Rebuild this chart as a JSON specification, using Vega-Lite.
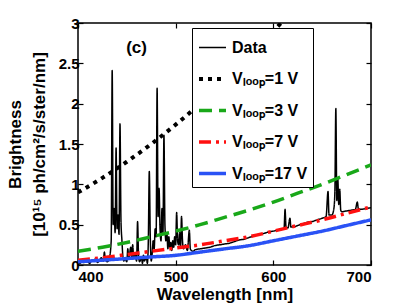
{
  "$schema": "https://vega.github.io/schema/vega-lite/v6.json",
  "width": 293,
  "height": 242,
  "autosize": {"type": "none"},
  "padding": {"left": 78, "top": 23, "right": 39, "bottom": 43},
  "config": {
    "font": "Liberation Sans",
    "background": "white",
    "view": {"stroke": "black", "strokeWidth": 1.5},
    "axis": {
      "grid": false,
      "domain": false,
      "tickColor": "black",
      "tickSize": -5,
      "tickWidth": 1.2,
      "labelFont": "Liberation Sans",
      "labelFontWeight": "bold",
      "labelFontSize": 15,
      "labelColor": "black",
      "titleFont": "Liberation Sans",
      "titleFontWeight": "bold",
      "titleFontSize": 17,
      "titleColor": "black"
    },
    "legend": {
      "orient": "none",
      "legendX": 114,
      "legendY": 5,
      "padding": 5,
      "strokeColor": "black",
      "fillColor": "white",
      "rowPadding": 7.5,
      "symbolType": "stroke",
      "symbolSize": 729,
      "labelFont": "Liberation Sans",
      "labelFontWeight": "bold",
      "labelFontSize": 16,
      "labelColor": "black",
      "labelOffset": 4,
      "title": null
    }
  },
  "data": {
    "values": [
      {"series": "Data", "wl": 400, "b": 0.04},
      {"series": "Data", "wl": 402, "b": 0.02},
      {"series": "Data", "wl": 404, "b": 0.05},
      {"series": "Data", "wl": 406, "b": 0.03},
      {"series": "Data", "wl": 408, "b": 0.06},
      {"series": "Data", "wl": 410, "b": 0.04},
      {"series": "Data", "wl": 412, "b": 0.02},
      {"series": "Data", "wl": 414, "b": 0.06},
      {"series": "Data", "wl": 416, "b": 0.05},
      {"series": "Data", "wl": 418, "b": 0.08},
      {"series": "Data", "wl": 420, "b": 0.03},
      {"series": "Data", "wl": 422, "b": 0.06},
      {"series": "Data", "wl": 424, "b": 0.09},
      {"series": "Data", "wl": 426, "b": 0.05},
      {"series": "Data", "wl": 427, "b": 0.16},
      {"series": "Data", "wl": 428, "b": 0.07},
      {"series": "Data", "wl": 430, "b": 0.04},
      {"series": "Data", "wl": 432, "b": 0.08},
      {"series": "Data", "wl": 434, "b": 0.3},
      {"series": "Data", "wl": 435, "b": 2.41},
      {"series": "Data", "wl": 436, "b": 0.5},
      {"series": "Data", "wl": 437, "b": 0.7},
      {"series": "Data", "wl": 438, "b": 0.4},
      {"series": "Data", "wl": 439, "b": 1.45},
      {"series": "Data", "wl": 440, "b": 0.45},
      {"series": "Data", "wl": 441, "b": 0.62},
      {"series": "Data", "wl": 442, "b": 0.38},
      {"series": "Data", "wl": 443, "b": 1.75},
      {"series": "Data", "wl": 444, "b": 0.55},
      {"series": "Data", "wl": 445, "b": 0.3},
      {"series": "Data", "wl": 446, "b": 0.1},
      {"series": "Data", "wl": 447, "b": 0.05},
      {"series": "Data", "wl": 448, "b": 0.08},
      {"series": "Data", "wl": 450, "b": 0.04},
      {"series": "Data", "wl": 451, "b": 0.2},
      {"series": "Data", "wl": 452, "b": 0.07},
      {"series": "Data", "wl": 454, "b": 0.22},
      {"series": "Data", "wl": 455, "b": 0.1},
      {"series": "Data", "wl": 456, "b": 0.25},
      {"series": "Data", "wl": 457, "b": 0.08},
      {"series": "Data", "wl": 458, "b": 0.15},
      {"series": "Data", "wl": 460, "b": 0.05},
      {"series": "Data", "wl": 461, "b": 0.54},
      {"series": "Data", "wl": 462, "b": 0.12},
      {"series": "Data", "wl": 463, "b": 0.04},
      {"series": "Data", "wl": 465, "b": 0.09},
      {"series": "Data", "wl": 466, "b": 0.02},
      {"series": "Data", "wl": 467, "b": 0.12},
      {"series": "Data", "wl": 468, "b": 0.05},
      {"series": "Data", "wl": 470, "b": 0.1},
      {"series": "Data", "wl": 471, "b": 0.02},
      {"series": "Data", "wl": 472, "b": 0.3},
      {"series": "Data", "wl": 473, "b": 1.16},
      {"series": "Data", "wl": 474, "b": 0.35},
      {"series": "Data", "wl": 475, "b": 0.05},
      {"series": "Data", "wl": 476, "b": 0.15},
      {"series": "Data", "wl": 477, "b": 0.3},
      {"series": "Data", "wl": 478, "b": 0.2},
      {"series": "Data", "wl": 479, "b": 0.45},
      {"series": "Data", "wl": 480, "b": 0.35},
      {"series": "Data", "wl": 481, "b": 2.19},
      {"series": "Data", "wl": 482, "b": 0.6},
      {"series": "Data", "wl": 483, "b": 0.95},
      {"series": "Data", "wl": 484, "b": 0.45},
      {"series": "Data", "wl": 485, "b": 0.3},
      {"series": "Data", "wl": 486, "b": 0.7},
      {"series": "Data", "wl": 487, "b": 0.4},
      {"series": "Data", "wl": 488, "b": 1.61},
      {"series": "Data", "wl": 489, "b": 0.5},
      {"series": "Data", "wl": 490, "b": 0.3},
      {"series": "Data", "wl": 491, "b": 0.4},
      {"series": "Data", "wl": 492, "b": 0.2},
      {"series": "Data", "wl": 493, "b": 0.35},
      {"series": "Data", "wl": 494, "b": 0.22},
      {"series": "Data", "wl": 495, "b": 0.28},
      {"series": "Data", "wl": 496, "b": 0.18},
      {"series": "Data", "wl": 497, "b": 0.3},
      {"series": "Data", "wl": 498, "b": 0.22},
      {"series": "Data", "wl": 499, "b": 0.35},
      {"series": "Data", "wl": 500, "b": 0.25},
      {"series": "Data", "wl": 501, "b": 0.65},
      {"series": "Data", "wl": 502, "b": 0.3},
      {"series": "Data", "wl": 503, "b": 0.25},
      {"series": "Data", "wl": 504, "b": 0.4},
      {"series": "Data", "wl": 505, "b": 0.22},
      {"series": "Data", "wl": 506, "b": 0.6},
      {"series": "Data", "wl": 507, "b": 0.3},
      {"series": "Data", "wl": 508, "b": 0.2},
      {"series": "Data", "wl": 510, "b": 0.25},
      {"series": "Data", "wl": 512, "b": 0.18},
      {"series": "Data", "wl": 514, "b": 0.43},
      {"series": "Data", "wl": 515, "b": 0.2},
      {"series": "Data", "wl": 516, "b": 0.18},
      {"series": "Data", "wl": 518, "b": 0.17},
      {"series": "Data", "wl": 520, "b": 0.19},
      {"series": "Data", "wl": 525, "b": 0.2},
      {"series": "Data", "wl": 530, "b": 0.21},
      {"series": "Data", "wl": 535, "b": 0.22},
      {"series": "Data", "wl": 540, "b": 0.24},
      {"series": "Data", "wl": 545, "b": 0.25},
      {"series": "Data", "wl": 550, "b": 0.26},
      {"series": "Data", "wl": 555, "b": 0.27},
      {"series": "Data", "wl": 560, "b": 0.29},
      {"series": "Data", "wl": 565, "b": 0.31},
      {"series": "Data", "wl": 570, "b": 0.32},
      {"series": "Data", "wl": 575, "b": 0.34},
      {"series": "Data", "wl": 580, "b": 0.36},
      {"series": "Data", "wl": 585, "b": 0.38},
      {"series": "Data", "wl": 590, "b": 0.39},
      {"series": "Data", "wl": 595, "b": 0.41},
      {"series": "Data", "wl": 600, "b": 0.42},
      {"series": "Data", "wl": 604, "b": 0.43},
      {"series": "Data", "wl": 608, "b": 0.44},
      {"series": "Data", "wl": 611, "b": 0.45},
      {"series": "Data", "wl": 612, "b": 0.69},
      {"series": "Data", "wl": 613, "b": 0.47},
      {"series": "Data", "wl": 615, "b": 0.46},
      {"series": "Data", "wl": 617, "b": 0.58},
      {"series": "Data", "wl": 618, "b": 0.47},
      {"series": "Data", "wl": 620, "b": 0.47},
      {"series": "Data", "wl": 625, "b": 0.49},
      {"series": "Data", "wl": 630, "b": 0.51},
      {"series": "Data", "wl": 635, "b": 0.53},
      {"series": "Data", "wl": 640, "b": 0.54},
      {"series": "Data", "wl": 645, "b": 0.56},
      {"series": "Data", "wl": 650, "b": 0.58},
      {"series": "Data", "wl": 654, "b": 0.6},
      {"series": "Data", "wl": 656, "b": 0.91},
      {"series": "Data", "wl": 657, "b": 0.62},
      {"series": "Data", "wl": 660, "b": 0.62},
      {"series": "Data", "wl": 662, "b": 0.7},
      {"series": "Data", "wl": 663, "b": 0.9},
      {"series": "Data", "wl": 664, "b": 1.94},
      {"series": "Data", "wl": 665, "b": 0.8},
      {"series": "Data", "wl": 666, "b": 1.07},
      {"series": "Data", "wl": 667, "b": 0.75},
      {"series": "Data", "wl": 668, "b": 0.94},
      {"series": "Data", "wl": 669, "b": 0.68},
      {"series": "Data", "wl": 670, "b": 0.66},
      {"series": "Data", "wl": 675, "b": 0.67},
      {"series": "Data", "wl": 680, "b": 0.68},
      {"series": "Data", "wl": 684, "b": 0.69},
      {"series": "Data", "wl": 686, "b": 0.78},
      {"series": "Data", "wl": 687, "b": 0.7},
      {"series": "Data", "wl": 690, "b": 0.69},
      {"series": "Data", "wl": 695, "b": 0.7},
      {"series": "Data", "wl": 700, "b": 0.71},
      {"series": "Vₗₒₒₚ=1 V", "wl": 400, "b": 0.9},
      {"series": "Vₗₒₒₚ=1 V", "wl": 425, "b": 1.08},
      {"series": "Vₗₒₒₚ=1 V", "wl": 450, "b": 1.28},
      {"series": "Vₗₒₒₚ=1 V", "wl": 475, "b": 1.5},
      {"series": "Vₗₒₒₚ=1 V", "wl": 500, "b": 1.74},
      {"series": "Vₗₒₒₚ=1 V", "wl": 525, "b": 2.0},
      {"series": "Vₗₒₒₚ=1 V", "wl": 550, "b": 2.28},
      {"series": "Vₗₒₒₚ=1 V", "wl": 575, "b": 2.58},
      {"series": "Vₗₒₒₚ=1 V", "wl": 600, "b": 2.9},
      {"series": "Vₗₒₒₚ=1 V", "wl": 625, "b": 3.22},
      {"series": "Vₗₒₒₚ=1 V", "wl": 650, "b": 3.56},
      {"series": "Vₗₒₒₚ=3 V", "wl": 400, "b": 0.17},
      {"series": "Vₗₒₒₚ=3 V", "wl": 425, "b": 0.22},
      {"series": "Vₗₒₒₚ=3 V", "wl": 450, "b": 0.28},
      {"series": "Vₗₒₒₚ=3 V", "wl": 475, "b": 0.35},
      {"series": "Vₗₒₒₚ=3 V", "wl": 500, "b": 0.42},
      {"series": "Vₗₒₒₚ=3 V", "wl": 525, "b": 0.5},
      {"series": "Vₗₒₒₚ=3 V", "wl": 550, "b": 0.59},
      {"series": "Vₗₒₒₚ=3 V", "wl": 575, "b": 0.68},
      {"series": "Vₗₒₒₚ=3 V", "wl": 600, "b": 0.78},
      {"series": "Vₗₒₒₚ=3 V", "wl": 625, "b": 0.89},
      {"series": "Vₗₒₒₚ=3 V", "wl": 650, "b": 1.0},
      {"series": "Vₗₒₒₚ=3 V", "wl": 675, "b": 1.12},
      {"series": "Vₗₒₒₚ=3 V", "wl": 700, "b": 1.24},
      {"series": "Vₗₒₒₚ=7 V", "wl": 400, "b": 0.06},
      {"series": "Vₗₒₒₚ=7 V", "wl": 425, "b": 0.09},
      {"series": "Vₗₒₒₚ=7 V", "wl": 450, "b": 0.13},
      {"series": "Vₗₒₒₚ=7 V", "wl": 475, "b": 0.17},
      {"series": "Vₗₒₒₚ=7 V", "wl": 500, "b": 0.21},
      {"series": "Vₗₒₒₚ=7 V", "wl": 525, "b": 0.25},
      {"series": "Vₗₒₒₚ=7 V", "wl": 550, "b": 0.3},
      {"series": "Vₗₒₒₚ=7 V", "wl": 575, "b": 0.35},
      {"series": "Vₗₒₒₚ=7 V", "wl": 600, "b": 0.42},
      {"series": "Vₗₒₒₚ=7 V", "wl": 625, "b": 0.49},
      {"series": "Vₗₒₒₚ=7 V", "wl": 650, "b": 0.56},
      {"series": "Vₗₒₒₚ=7 V", "wl": 675, "b": 0.64},
      {"series": "Vₗₒₒₚ=7 V", "wl": 700, "b": 0.72},
      {"series": "Vₗₒₒₚ=17 V", "wl": 400, "b": 0.04},
      {"series": "Vₗₒₒₚ=17 V", "wl": 425, "b": 0.06},
      {"series": "Vₗₒₒₚ=17 V", "wl": 450, "b": 0.08},
      {"series": "Vₗₒₒₚ=17 V", "wl": 475, "b": 0.1},
      {"series": "Vₗₒₒₚ=17 V", "wl": 500, "b": 0.12},
      {"series": "Vₗₒₒₚ=17 V", "wl": 525, "b": 0.16},
      {"series": "Vₗₒₒₚ=17 V", "wl": 550, "b": 0.2},
      {"series": "Vₗₒₒₚ=17 V", "wl": 575, "b": 0.24},
      {"series": "Vₗₒₒₚ=17 V", "wl": 600, "b": 0.3},
      {"series": "Vₗₒₒₚ=17 V", "wl": 625, "b": 0.36},
      {"series": "Vₗₒₒₚ=17 V", "wl": 650, "b": 0.42},
      {"series": "Vₗₒₒₚ=17 V", "wl": 675, "b": 0.49},
      {"series": "Vₗₒₒₚ=17 V", "wl": 700, "b": 0.56}
    ]
  },
  "layer": [
    {
      "mark": {"type": "line", "clip": true, "interpolate": "monotone", "strokeCap": "butt"},
      "encoding": {
        "x": {
          "field": "wl", "type": "quantitative",
          "scale": {"domain": [400, 700], "nice": false, "zero": false},
          "axis": {"values": [400, 500, 600, 700], "title": "Wavelength [nm]", "labelPadding": 9, "titlePadding": 2}
        },
        "y": {
          "field": "b", "type": "quantitative",
          "scale": {"domain": [0, 3], "nice": false},
          "axis": {"values": [0, 0.5, 1, 1.5, 2, 2.5, 3], "format": "~g", "title": ["Brightness", "[10¹⁵ ph/cm²/s/ster/nm]"], "labelPadding": 4, "titlePadding": 10, "titleLineHeight": 24}
        },
        "color": {
          "field": "series", "type": "nominal",
          "scale": {
            "domain": ["Data", "Vₗₒₒₚ=1 V", "Vₗₒₒₚ=3 V", "Vₗₒₒₚ=7 V", "Vₗₒₒₚ=17 V"],
            "range": ["#000000", "#000000", "#19a819", "#ff1010", "#2a52f5"]
          }
        },
        "strokeDash": {
          "field": "series", "type": "nominal",
          "scale": {
            "domain": ["Data", "Vₗₒₒₚ=1 V", "Vₗₒₒₚ=3 V", "Vₗₒₒₚ=7 V", "Vₗₒₒₚ=17 V"],
            "range": [[1, 0], [4, 5], [13, 7], [12, 5, 3, 5], [1, 0]]
          }
        },
        "strokeWidth": {
          "field": "series", "type": "nominal",
          "scale": {
            "type": "ordinal",
            "domain": ["Data", "Vₗₒₒₚ=1 V", "Vₗₒₒₚ=3 V", "Vₗₒₒₚ=7 V", "Vₗₒₒₚ=17 V"],
            "range": [1.5, 4, 3.5, 3.5, 3.5]
          }
        }
      }
    },
    {
      "mark": {"type": "line", "opacity": 0},
      "encoding": {
        "x": {"field": "wl", "type": "quantitative", "axis": {"orient": "top", "values": [400, 500, 600, 700], "labels": false, "title": null}},
        "y": {"field": "b", "type": "quantitative", "axis": {"orient": "right", "values": [0, 0.5, 1, 1.5, 2, 2.5, 3], "labels": false, "title": null}}
      }
    },
    {
      "data": {"values": [{"label": "(c)"}]},
      "mark": {"type": "text", "font": "Liberation Sans", "fontWeight": "bold", "fontSize": 17, "color": "black"},
      "encoding": {
        "text": {"field": "label"},
        "x": {"datum": 460, "axis": null},
        "y": {"datum": 2.69, "axis": null}
      }
    }
  ],
  "resolve": {"axis": {"x": "independent", "y": "independent"}}
}
